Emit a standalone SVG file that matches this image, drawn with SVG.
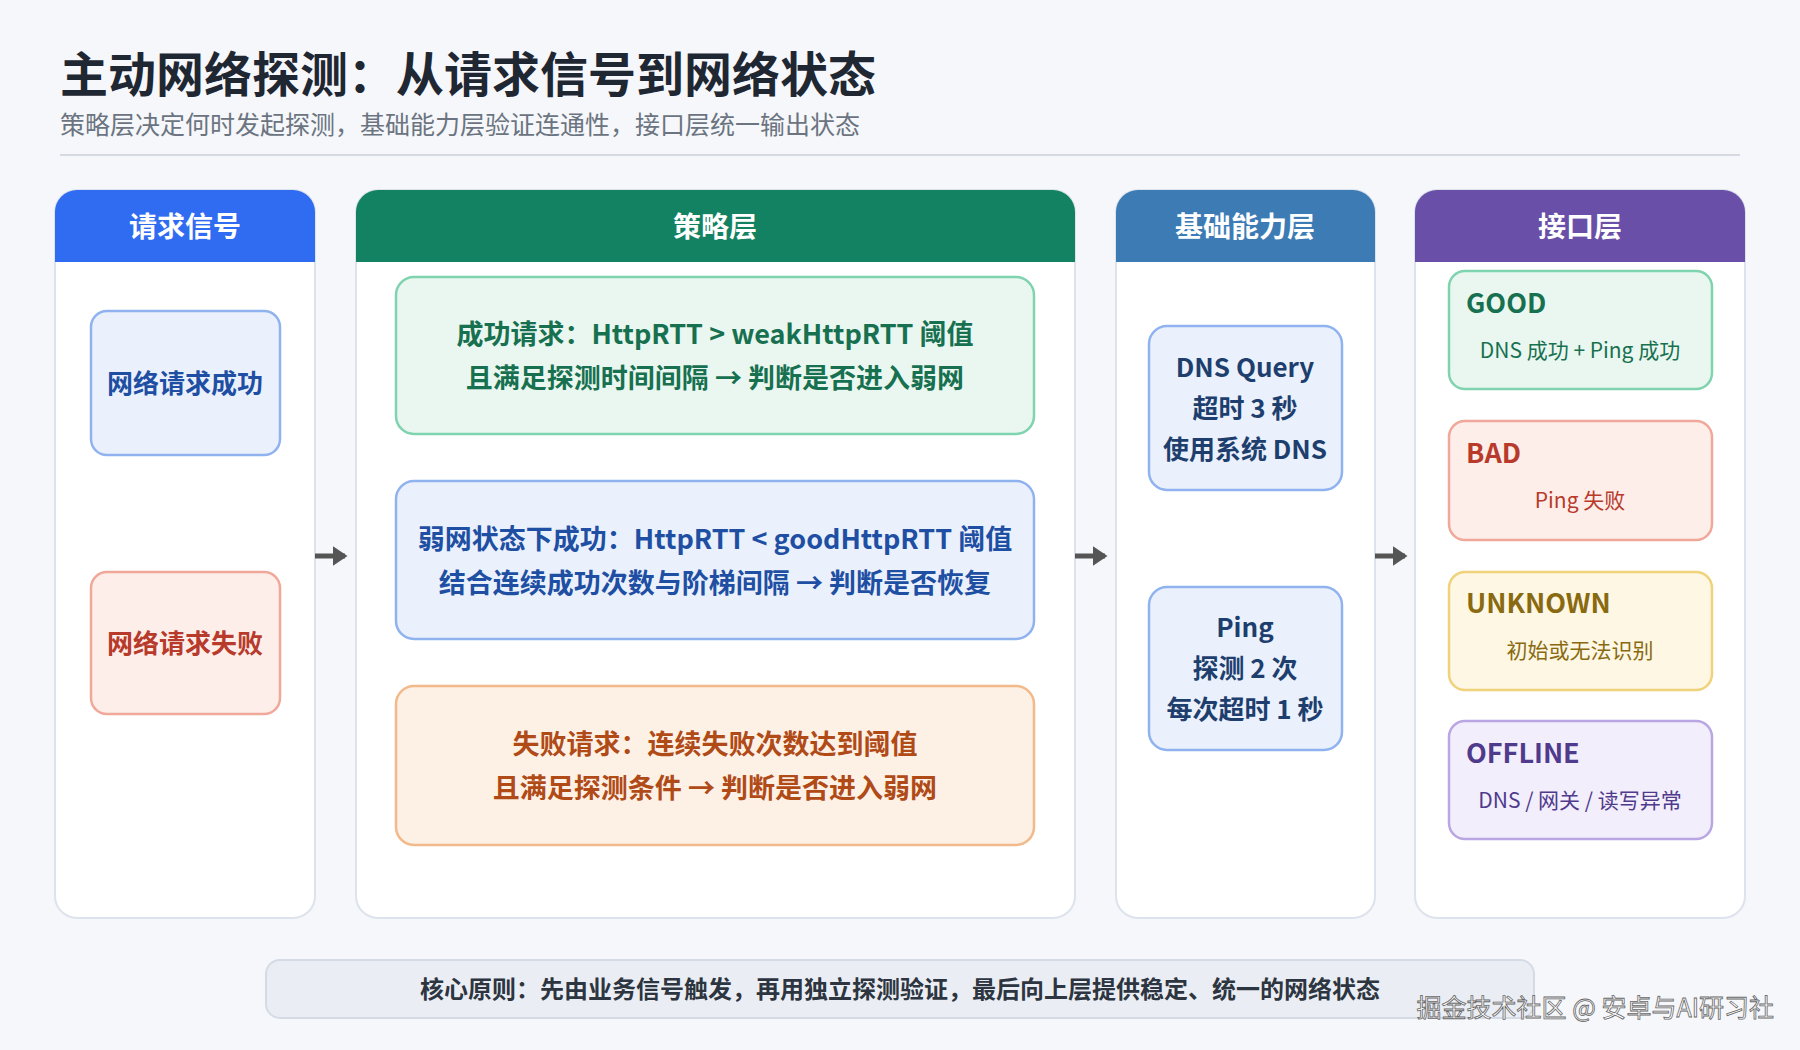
<svg xmlns="http://www.w3.org/2000/svg" width="1800" height="1050" viewBox="0 0 1800 1050">
<defs>
<style>
text{font-family:"Noto Sans CJK SC","Noto Sans",sans-serif;}
.hd{font-size:28px;font-weight:700;fill:#fff;text-anchor:middle}
.col{fill:#fff;stroke:#dde3ec;stroke-width:2}
.b{font-size:26px;font-weight:700;text-anchor:middle}
.pb{font-size:27px;font-weight:700;text-anchor:middle}
.st{font-size:27px;font-weight:700}
.sd{font-size:21px;text-anchor:middle}
</style>
<marker id="ar" markerWidth="4" markerHeight="4" refX="2.5" refY="2" orient="auto"><path d="M0,0 L3,2 L0,4 Z" fill="#555"/></marker>
</defs>
<rect width="1800" height="1050" fill="#f5f7fb"/>
<text x="60" y="92" font-size="48" font-weight="700" fill="#1f2733">主动网络探测：从请求信号到网络状态</text>
<text x="60" y="134" font-size="25" fill="#6b7480">策略层决定何时发起探测，基础能力层验证连通性，接口层统一输出状态</text>
<line x1="60" y1="155" x2="1740" y2="155" stroke="#d5dae2" stroke-width="2"/>

<g id="col1"><rect class="col" x="55" y="190" width="260" height="728" rx="22"/><path d="M55,262 V212 a22,22 0 0 1 22,-22 H293 a22,22 0 0 1 22,22 V262 Z" fill="#2f6cf1"/><text class="hd" x="185" y="237">请求信号</text></g>
<g id="col2"><rect class="col" x="356" y="190" width="719" height="728" rx="22"/><path d="M356,262 V212 a22,22 0 0 1 22,-22 H1053 a22,22 0 0 1 22,22 V262 Z" fill="#138262"/><text class="hd" x="715" y="237">策略层</text></g>
<g id="col3"><rect class="col" x="1116" y="190" width="259" height="728" rx="22"/><path d="M1116,262 V212 a22,22 0 0 1 22,-22 H1353 a22,22 0 0 1 22,22 V262 Z" fill="#3d7bb5"/><text class="hd" x="1245" y="237">基础能力层</text></g>
<g id="col4"><rect class="col" x="1415" y="190" width="330" height="728" rx="22"/><path d="M1415,262 V212 a22,22 0 0 1 22,-22 H1723 a22,22 0 0 1 22,22 V262 Z" fill="#6a4fa8"/><text class="hd" x="1580" y="237">接口层</text></g>

<g id="n-success"><rect x="91" y="311" width="189" height="144" rx="16" fill="#eaf1fd" stroke="#90b3f0" stroke-width="2.5"/><text class="b" x="185" y="393" fill="#1e4fa3">网络请求成功</text></g>
<g id="n-fail"><rect x="91" y="572" width="189" height="142" rx="16" fill="#fdeeea" stroke="#f0a89a" stroke-width="2.5"/><text class="b" x="185" y="653" fill="#b83a2a">网络请求失败</text></g>

<g id="p1"><rect x="396" y="277" width="638" height="157" rx="18" fill="#e9f7f0" stroke="#7fd3ae" stroke-width="2.5"/><text class="pb" x="715" y="344" fill="#17704f">成功请求：HttpRTT &gt; weakHttpRTT 阈值</text><text class="pb" x="715" y="388" fill="#17704f">且满足探测时间间隔 → 判断是否进入弱网</text></g>
<g id="p2"><rect x="396" y="481" width="638" height="158" rx="18" fill="#eaf1fd" stroke="#90b3f0" stroke-width="2.5"/><text class="pb" x="715" y="549" fill="#1e4fa3">弱网状态下成功：HttpRTT &lt; goodHttpRTT 阈值</text><text class="pb" x="715" y="593" fill="#1e4fa3">结合连续成功次数与阶梯间隔 → 判断是否恢复</text></g>
<g id="p3"><rect x="396" y="686" width="638" height="159" rx="18" fill="#fdf1e6" stroke="#f2b98a" stroke-width="2.5"/><text class="pb" x="715" y="754" fill="#b04a17">失败请求：连续失败次数达到阈值</text><text class="pb" x="715" y="798" fill="#b04a17">且满足探测条件 → 判断是否进入弱网</text></g>

<g id="dns"><rect x="1149" y="326" width="193" height="164" rx="18" fill="#eaf1fd" stroke="#90b3f0" stroke-width="2.5"/><text class="b" x="1245" y="377" fill="#1e3f6e">DNS Query</text><text class="b" x="1245" y="418" fill="#1e3f6e">超时 3 秒</text><text class="b" x="1245" y="459" fill="#1e3f6e">使用系统 DNS</text></g>
<g id="ping"><rect x="1149" y="587" width="193" height="163" rx="18" fill="#eaf1fd" stroke="#90b3f0" stroke-width="2.5"/><text class="b" x="1245" y="637" fill="#1e3f6e">Ping</text><text class="b" x="1245" y="678" fill="#1e3f6e">探测 2 次</text><text class="b" x="1245" y="719" fill="#1e3f6e">每次超时 1 秒</text></g>

<g id="good"><rect x="1449" y="271" width="263" height="118" rx="16" fill="#e9f7f0" stroke="#7fd3ae" stroke-width="2.5"/><text class="st" x="1466" y="313" fill="#17704f">GOOD</text><text class="sd" x="1580" y="358" fill="#17704f">DNS 成功 + Ping 成功</text></g>
<g id="bad"><rect x="1449" y="421" width="263" height="119" rx="16" fill="#fdeeea" stroke="#f0a89a" stroke-width="2.5"/><text class="st" x="1466" y="463" fill="#b83a2a">BAD</text><text class="sd" x="1580" y="508" fill="#b83a2a">Ping 失败</text></g>
<g id="unknown"><rect x="1449" y="572" width="263" height="118" rx="16" fill="#fdf7e4" stroke="#f0d27a" stroke-width="2.5"/><text class="st" x="1466" y="613" fill="#8a6a10">UNKNOWN</text><text class="sd" x="1580" y="658" fill="#8a6a10">初始或无法识别</text></g>
<g id="offline"><rect x="1449" y="721" width="263" height="118" rx="16" fill="#f2eefb" stroke="#b9a6e3" stroke-width="2.5"/><text class="st" x="1466" y="763" fill="#4f3a8c">OFFLINE</text><text class="sd" x="1580" y="808" fill="#4f3a8c">DNS / 网关 / 读写异常</text></g>

<g id="connectors" stroke="#555" stroke-width="5" fill="none" marker-end="url(#ar)">
<line x1="315" y1="556" x2="345" y2="556"/>
<line x1="1075" y1="556" x2="1105" y2="556"/>
<line x1="1375" y1="556" x2="1405" y2="556"/>
</g>

<g id="footer"><rect x="266" y="960" width="1268" height="58" rx="14" fill="#eaeef4" stroke="#d5dbe4" stroke-width="2"/><text x="900" y="998" font-size="24" font-weight="700" fill="#2d3540" text-anchor="middle">核心原则：先由业务信号触发，再用独立探测验证，最后向上层提供稳定、统一的网络状态</text></g>
<text x="1774" y="1017" font-size="25" fill="#fff" stroke="#666" stroke-width="0.8" text-anchor="end">掘金技术社区 @ 安卓与AI研习社</text>
</svg>
